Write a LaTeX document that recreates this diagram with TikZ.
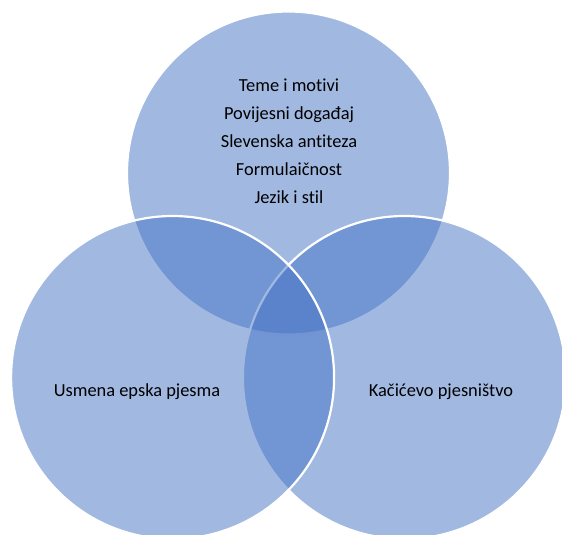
\documentclass[tikz,border=0pt]{standalone}
\usepackage{fontspec}
\setmainfont{Carlito}[Ligatures={NoCommon}]
\definecolor{venn}{HTML}{4472C4}
\begin{document}
\begin{tikzpicture}[x=1pt,y=-1pt,
  vennc/.style={circle, minimum size=323pt, inner sep=0pt, fill=venn, fill opacity=0.5, draw=white, draw opacity=1, line width=2.2pt},
  lbl/.style={font=\fontsize{18.4}{28}\selectfont, text=black, inner sep=0pt, anchor=base}]
\useasboundingbox (0,0) rectangle (562,535);
\clip (0,0) rectangle (562,535);
\node[vennc] (top) at (288.5,173) {};
\node[vennc] (right) at (404.4,377.5) {};
\node[vennc] (left) at (172.6,377.5) {};
\node[lbl] (t1) at (289,91.5) {Teme i motivi};
\node[lbl] (t2) at (289,119.5) {Povijesni događaj};
\node[lbl] (t3) at (289,147.5) {Slevenska antiteza};
\node[lbl] (t4) at (289,175.5) {Formulaičnost};
\node[lbl] (t5) at (289,203.5) {Jezik i stil};
\node[lbl] (lt) at (137,396) {Usmena epska pjesma};
\node[lbl] (rt) at (441,396) {Kačićevo pjesništvo};
\end{tikzpicture}
\end{document}
